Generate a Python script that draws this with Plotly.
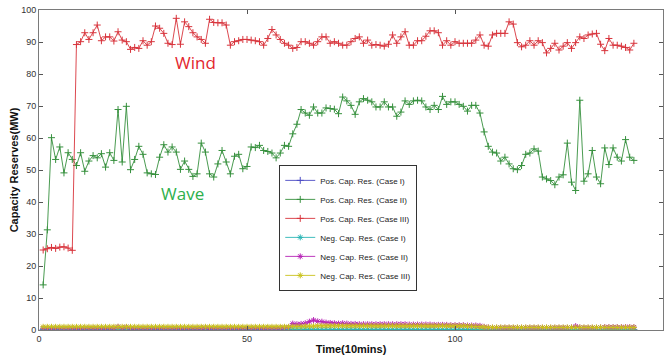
import plotly.graph_objects as go

time_steps = list(range(1, 144))

# Pos. Cap. Res. (Case III) -- Wind
pos_case3 = [25.0, 25.4, 25.8, 25.5, 25.9, 26.0, 25.6, 24.9, 89.2, 90.1,
             92.9, 90.8, 92.9, 95.3, 90.4, 91.6, 91.6, 90.3, 93.2, 90.6,
             90.1, 87.7, 88.3, 88.0, 90.4, 89.0, 90.1, 95.0, 94.3, 92.7,
             89.6, 89.2, 97.4, 89.3, 96.3, 94.8, 92.9, 91.6, 90.8, 89.6,
             97.1, 96.1, 96.0, 96.0, 95.3, 89.0, 90.1, 90.4, 90.8, 90.8,
             90.6, 90.4, 90.1, 89.0, 91.1, 93.9, 92.2, 90.8, 89.6, 89.0,
             88.0, 88.3, 90.1, 90.1, 89.6, 89.0, 90.1, 91.6, 91.6, 89.6,
             90.1, 89.6, 89.0, 89.0, 90.1, 91.1, 91.6, 89.6, 90.6, 89.0,
             89.2, 89.0, 88.7, 89.3, 92.2, 89.6, 91.6, 93.2, 89.0, 89.0,
             90.4, 90.4, 91.8, 93.5, 93.5, 92.9, 89.0, 90.4, 89.0, 90.1,
             89.6, 89.6, 89.6, 89.6, 90.6, 92.2, 89.0, 88.7, 92.2, 92.7,
             92.7, 92.7, 96.3, 95.6, 89.8, 88.5, 89.0, 90.4, 89.0, 90.4,
             89.8, 86.6, 88.0, 89.6, 87.5, 88.7, 89.8, 88.0, 89.8, 91.6,
             91.1, 92.2, 92.5, 92.7, 89.3, 87.3, 91.1, 89.0, 89.0, 88.7,
             88.3, 87.5, 89.6]

# Pos. Cap. Res. (Case II) -- Wave
pos_case2 = [14.1, 31.3, 60.1, 53.3, 57.2, 49.1, 55.4, 53.3, 51.4, 55.4,
             49.6, 52.8, 54.5, 53.8, 55.1, 50.9, 55.4, 53.0, 68.9, 52.5,
             69.9, 50.1, 53.3, 57.4, 54.9, 49.1, 48.8, 48.6, 54.0, 57.9,
             55.6, 57.2, 55.6, 50.2, 52.8, 50.2, 48.0, 48.8, 58.4, 55.6,
             48.8, 47.8, 51.9, 56.1, 52.5, 48.8, 54.3, 54.9, 50.4, 51.1,
             57.2, 57.0, 57.7, 56.1, 55.8, 55.3, 53.8, 55.3, 57.7, 57.4,
             61.3, 64.3, 68.9, 67.8, 67.1, 69.7, 67.8, 67.8, 69.4, 69.2,
             69.0, 67.6, 72.8, 71.6, 70.2, 67.4, 71.3, 72.3, 71.8, 71.3,
             69.7, 69.7, 71.3, 69.7, 69.7, 66.8, 68.1, 71.6, 70.5, 71.6,
             71.8, 71.6, 69.7, 68.9, 70.2, 68.9, 73.0, 70.5, 71.3, 71.3,
             70.5, 69.9, 68.4, 70.2, 70.2, 67.8, 61.9, 57.4, 55.6, 55.3,
             52.8, 54.0, 51.9, 50.4, 50.1, 51.4, 54.9, 55.3, 56.6, 55.9,
             47.8, 47.2, 46.7, 45.4, 47.8, 48.5, 58.4, 46.2, 43.6, 71.8,
             46.5, 48.8, 56.1, 47.8, 45.7, 56.9, 51.7, 56.9, 54.0, 52.8,
             59.5, 54.0, 53.0]

# Pos. Cap. Res. (Case I)
pos_case1 = [0.1, 0.1, 0.1, 0.1, 0.1, 0.1, 0.1, 0.1, 0.1, 0.1,
             0.1, 0.1, 0.1, 0.1, 0.1, 0.1, 0.1, 0.1, 0.1, 0.1,
             0.1, 0.1, 0.1, 0.1, 0.1, 0.1, 0.1, 0.1, 0.1, 0.1,
             0.1, 0.1, 0.1, 0.1, 0.1, 0.1, 0.1, 0.1, 0.1, 0.1,
             0.1, 0.1, 0.1, 0.1, 0.1, 0.1, 0.1, 0.1, 0.1, 0.1,
             0.1, 0.1, 0.1, 0.1, 0.1, 0.1, 0.1, 0.1, 0.1, 0.1,
             0.1, 0.1, 0.1, 0.1, 0.1, 0.1, 0.1, 0.1, 0.1, 0.1,
             0.1, 0.1, 0.1, 0.1, 0.1, 0.1, 0.1, 0.1, 0.1, 0.1,
             0.1, 0.1, 0.1, 0.1, 0.1, 0.1, 0.1, 0.1, 0.1, 0.1,
             0.1, 0.1, 0.1, 0.1, 0.1, 0.1, 0.1, 0.1, 0.1, 0.1,
             0.1, 0.1, 0.1, 0.1, 0.1, 0.1, 0.1, 0.1, 0.1, 0.1,
             0.1, 0.1, 0.1, 0.1, 0.1, 0.1, 0.1, 0.1, 0.1, 0.1,
             0.1, 0.1, 0.1, 0.1, 0.1, 0.1, 0.1, 0.1, 0.1, 0.1,
             0.1, 0.1, 0.1, 0.1, 0.1, 0.1, 0.1, 0.1, 0.1, 0.1,
             0.1, 0.1, 0.1]

# Neg. Cap. Res. (Case I)
neg_case1 = [0.2, 0.2, 0.2, 0.2, 0.2, 0.2, 0.2, 0.2, 0.2, 0.2,
             0.2, 0.2, 0.2, 0.2, 0.2, 0.2, 0.2, 0.2, 0.2, 0.2,
             0.2, 0.2, 0.2, 0.2, 0.2, 0.2, 0.2, 0.2, 0.2, 0.2,
             0.2, 0.2, 0.2, 0.2, 0.2, 0.2, 0.2, 0.2, 0.2, 0.2,
             0.2, 0.2, 0.2, 0.2, 0.2, 0.2, 0.2, 0.2, 0.2, 0.2,
             0.2, 0.2, 0.2, 0.2, 0.2, 0.2, 0.2, 0.2, 0.2, 0.2,
             0.2, 0.2, 0.2, 0.2, 0.2, 0.2, 0.2, 0.2, 0.2, 0.2,
             0.2, 0.2, 0.2, 0.2, 0.2, 0.2, 0.2, 0.2, 0.2, 0.2,
             0.2, 0.2, 0.2, 0.2, 0.2, 0.2, 0.2, 0.2, 0.2, 0.2,
             0.2, 0.2, 0.2, 0.2, 0.2, 0.2, 0.2, 0.2, 0.2, 0.2,
             0.2, 0.2, 0.2, 0.2, 0.2, 0.2, 0.2, 0.2, 0.2, 0.2,
             0.2, 0.2, 0.2, 0.2, 0.2, 0.2, 0.2, 0.2, 0.2, 0.2,
             0.2, 0.2, 0.2, 0.2, 0.2, 0.2, 0.2, 0.2, 0.2, 0.2,
             0.2, 0.2, 0.2, 0.2, 0.2, 0.2, 0.2, 0.2, 0.2, 0.2,
             0.2, 0.2, 0.2]

# Neg. Cap. Res. (Case II)
neg_case2 = [0.5, 0.5, 0.5, 0.5, 0.5, 0.5, 0.5, 0.5, 0.5, 0.5,
             0.5, 0.5, 0.5, 0.5, 0.5, 0.5, 0.5, 0.6, 1.0, 0.5,
             0.9, 0.6, 0.5, 0.5, 0.5, 0.5, 0.5, 0.5, 0.5, 0.5,
             0.5, 0.5, 0.5, 0.5, 0.5, 0.5, 0.5, 0.5, 0.6, 0.7,
             0.5, 0.5, 0.5, 0.5, 0.5, 0.5, 0.5, 0.5, 0.5, 0.5,
             0.5, 0.5, 0.5, 0.5, 0.6, 0.5, 0.5, 0.6, 0.7, 0.9,
             2.0, 1.8, 1.9, 2.1, 2.6, 3.1, 2.7, 2.6, 2.3, 2.2,
             2.1, 2.0, 2.1, 2.0, 1.9, 1.9, 1.8, 1.8, 1.8, 1.8,
             1.8, 1.8, 1.8, 1.8, 1.8, 1.8, 1.8, 1.8, 1.7, 1.7,
             1.7, 1.7, 1.7, 1.7, 1.6, 1.6, 1.6, 1.6, 1.5, 1.5,
             1.5, 1.5, 1.4, 1.4, 1.4, 1.3, 1.0, 0.8, 0.7, 0.7,
             0.7, 0.7, 0.7, 0.7, 0.7, 0.7, 0.7, 0.7, 0.7, 0.7,
             0.7, 0.7, 0.7, 0.7, 0.7, 0.7, 0.7, 0.8, 1.2, 0.8,
             0.7, 0.7, 0.7, 0.7, 0.8, 0.9, 0.9, 0.9, 0.9, 0.9,
             0.9, 0.9, 0.9]

# Neg. Cap. Res. (Case III)
neg_case3 = [1.0, 1.0, 1.0, 1.0, 1.0, 1.0, 1.0, 1.0, 1.0, 1.0,
             1.0, 1.0, 1.0, 1.0, 1.0, 1.0, 1.0, 1.0, 1.0, 1.0,
             1.0, 1.0, 1.0, 1.0, 1.0, 1.0, 1.0, 1.0, 1.0, 1.0,
             1.0, 1.0, 1.0, 1.0, 1.0, 1.0, 1.0, 1.0, 1.0, 1.0,
             1.0, 1.0, 1.0, 1.0, 1.0, 1.0, 1.0, 1.0, 1.0, 1.0,
             1.0, 1.0, 1.0, 1.0, 1.0, 1.0, 1.0, 1.0, 1.0, 1.0,
             1.1, 1.1, 1.1, 1.2, 1.2, 1.2, 1.3, 1.3, 1.3, 1.3,
             1.3, 1.3, 1.3, 1.3, 1.3, 1.3, 1.3, 1.3, 1.3, 1.3,
             1.3, 1.3, 1.3, 1.3, 1.3, 1.3, 1.3, 1.3, 1.3, 1.3,
             1.3, 1.3, 1.3, 1.3, 1.3, 1.3, 1.3, 1.3, 1.3, 1.3,
             1.3, 1.3, 1.2, 1.2, 1.1, 1.0, 0.9, 0.8, 0.8, 0.8,
             0.8, 0.8, 0.8, 0.8, 0.8, 0.8, 0.8, 0.8, 0.8, 0.8,
             0.8, 0.8, 0.8, 0.8, 0.8, 0.8, 0.8, 0.8, 0.8, 0.8,
             0.8, 0.8, 0.8, 0.8, 0.8, 0.8, 0.8, 0.8, 0.8, 0.8,
             0.8, 0.8, 0.8]

series_names = ["Pos. Cap. Res. (Case I)", "Pos. Cap. Res. (Case II)",
                "Pos. Cap. Res. (Case III)", "Neg. Cap. Res. (Case I)",
                "Neg. Cap. Res. (Case II)", "Neg. Cap. Res. (Case III)"]
series_values = [pos_case1, pos_case2, pos_case3, neg_case1, neg_case2, neg_case3]
series_colors = ["#4b4bc4", "#36903d", "#d8343c", "#2bb5b5", "#b623b6", "#c9c21c"]
series_symbols = ["cross-thin", "cross-thin", "cross-thin",
                  "asterisk", "asterisk", "asterisk"]

x_ticks = [0, 50, 100, 150]
y_ticks = [0, 10, 20, 30, 40, 50, 60, 70, 80, 90, 100]

fig = go.Figure()
for name, vals, col, sym in zip(series_names, series_values, series_colors, series_symbols):
    fig.add_trace(go.Scatter(
        x=time_steps, y=vals, name=name, mode="lines+markers",
        line=dict(color=col, width=0.9),
        marker=dict(symbol=sym, size=5, color=col, line=dict(color=col, width=1)),
    ))

fig.add_annotation(x=37.5, y=83.7, xref="x", yref="y", text="Wind", showarrow=False,
                   font=dict(family="Open Sans, Liberation Sans, sans-serif", size=17, color="#e3262e"))
fig.add_annotation(x=34.6, y=42.6, xref="x", yref="y", text="Wave", showarrow=False,
                   font=dict(family="Open Sans, Liberation Sans, sans-serif", size=17, color="#2eb04c"))

axis_common = dict(
    showline=True, linecolor="#7a7a7a", linewidth=1, mirror="ticks",
    ticks="inside", ticklen=4, tickcolor="#555555",
    showgrid=False, zeroline=False,
    tickfont=dict(family="Liberation Sans, Arial, sans-serif", size=9, color="#333333"),
)

fig.update_xaxes(range=[0, 150], tickvals=x_ticks, ticktext=[str(v) for v in x_ticks],
                 title=dict(text="Time(10mins)", standoff=2,
                            font=dict(family="Liberation Sans, Arial, sans-serif", size=11,
                                      color="#111111", weight="bold")),
                 **axis_common)
fig.update_yaxes(range=[0, 100], tickvals=y_ticks, ticktext=[str(v) for v in y_ticks],
                 title=dict(text="Capacity Reserves(MW)", standoff=0,
                            font=dict(family="Liberation Sans, Arial, sans-serif", size=11,
                                      color="#111111", weight="bold")),
                 **axis_common)

fig.update_layout(
    width=665, height=360,
    margin=dict(l=39, r=2, t=10, b=30, autoexpand=False),
    paper_bgcolor="white", plot_bgcolor="white",
    showlegend=True,
    legend=dict(x=0.385, y=0.516, xanchor="left", yanchor="top",
                bgcolor="white", bordercolor="#333333", borderwidth=1,
                font=dict(family="Liberation Sans, Arial, sans-serif", size=8, color="#222222"),
                itemwidth=30, tracegroupgap=0),
)

# remove the default page margin so the figure fills the window exactly
fig.write_html("out.html",
               config={"displayModeBar": False},
               post_script="document.body.style.margin='0';document.body.style.overflow='hidden';")
